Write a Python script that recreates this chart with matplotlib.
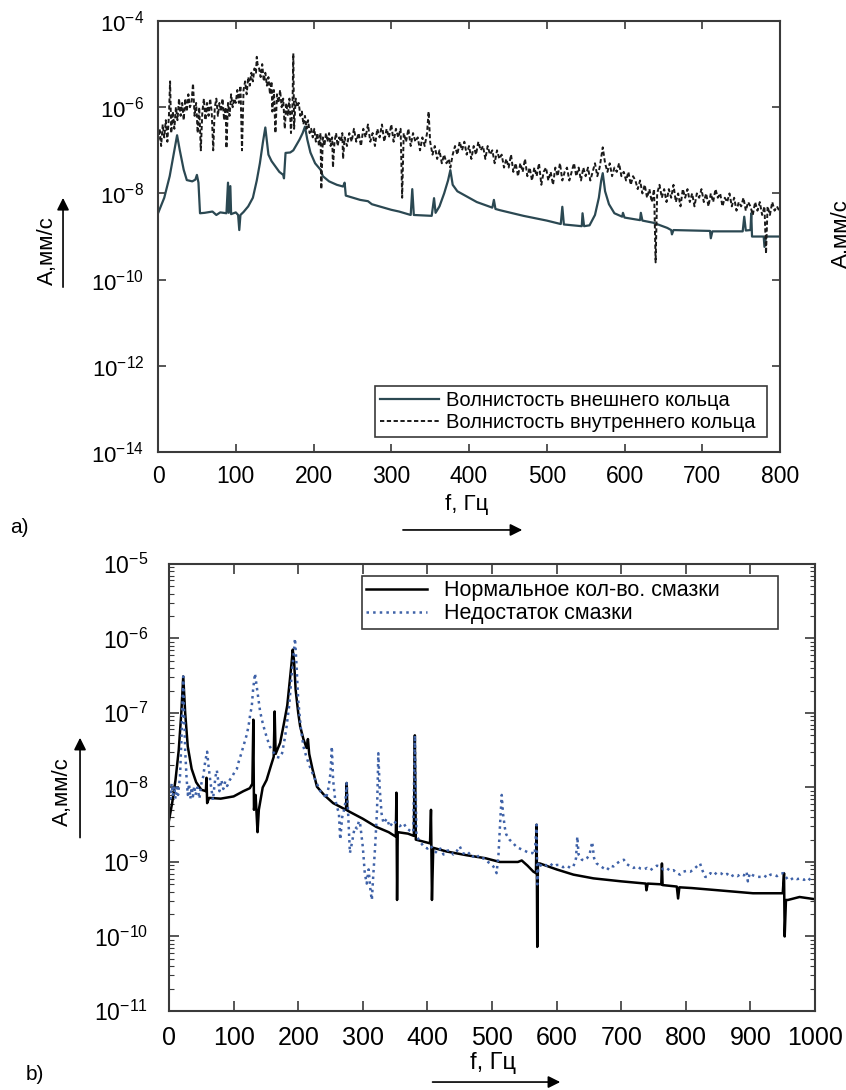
import numpy as np
import matplotlib.pyplot as plt

plt.rcParams['font.family'] = ['Liberation Sans', 'DejaVu Sans']
plt.rcParams['mathtext.fontset'] = 'custom'
plt.rcParams['mathtext.rm'] = 'Liberation Sans'
plt.rcParams['mathtext.it'] = 'Liberation Sans:italic'
plt.rcParams['mathtext.bf'] = 'Liberation Sans:bold'

# ---- panel a) : amplitudes, stored as log10(A, мм/с) ----
outer_f = [0, 8, 15, 20, 24.5, 28, 33, 37, 44, 48, 50, 52, 54, 60, 70, 75, 80, 88, 90, 91, 93, 94,
           100, 103, 104.5, 106, 110, 116, 122, 127, 131, 135, 138, 142, 146, 150, 156, 161, 162, 164,
           170, 174, 182, 186, 189, 192, 196, 202, 209, 212, 220, 230, 238, 240, 241.5, 260, 270, 275,
           300, 310, 325, 327, 329, 352, 355, 357, 362, 368, 373, 376, 379, 385, 398, 410, 430, 432,
           434, 440, 470, 500, 518, 520, 522, 545, 546, 548, 555, 562, 567, 570, 572, 575, 580, 587,
           597, 598, 600, 620, 621, 623, 637, 655, 660, 661, 663, 710, 711, 713, 752, 754, 756, 762,
           763, 764, 779, 780, 782, 800]
outer_lg = [-8.46, -8.1, -7.6, -7.1, -6.65, -7.0, -7.45, -7.69, -7.72, -7.68, -7.57, -7.75, -8.46, -8.45,
            -8.42, -8.5, -8.44, -8.46, -7.75, -8.45, -7.83, -8.48, -8.44, -8.5, -8.85, -8.5, -8.43, -8.3,
            -8.1, -7.7, -7.3, -6.8, -6.47, -7.1, -7.25, -7.35, -7.5, -7.57, -7.65, -7.06, -7.05, -7.0,
            -6.75, -6.6, -6.45, -6.75, -7.05, -7.3, -7.45, -7.6, -7.72, -7.8, -7.84, -7.75, -8.05, -8.15,
            -8.18, -8.25, -8.38, -8.42, -8.5, -7.9, -8.5, -8.52, -8.11, -8.45, -8.3, -8.0, -7.7, -7.46,
            -7.8, -7.95, -8.08, -8.2, -8.33, -8.15, -8.36, -8.39, -8.52, -8.63, -8.71, -8.31, -8.72,
            -8.76, -8.46, -8.76, -8.74, -8.5, -8.1, -7.7, -7.53, -7.95, -8.25, -8.46, -8.54, -8.45,
            -8.56, -8.62, -8.45, -8.63, -8.68, -8.8, -8.85, -8.95, -8.85, -8.87, -9.04, -8.88, -8.88,
            -8.54, -8.86, -8.85, -8.46, -9.0, -9.0, -9.24, -9.0, -9.0]

inner_f = [0, 2, 4, 6, 8, 10, 12, 14, 15.5, 17, 19, 21, 23, 25, 27, 29, 31, 33, 35, 37, 39, 41, 43, 45,
           47, 49, 51, 53, 55, 57, 59, 61, 63, 65, 67, 69, 71, 73, 75, 77, 79, 81, 83, 85, 87, 88, 90,
           92, 94, 96, 98, 100, 102, 104, 106, 108, 110, 112, 114, 116, 118, 120, 122, 124, 126, 127,
           128, 130, 132, 134, 136, 138, 140, 142, 144, 146, 147, 149, 151, 153, 155, 157, 159, 161,
           163, 165, 167, 169, 171, 173, 174, 175, 177, 179, 181, 183, 185, 187, 189, 191, 193, 195,
           197, 199, 201, 203, 205, 207, 209, 210, 212, 214, 216, 218, 220, 222, 224, 225, 227, 229,
           231, 233, 235, 237, 238, 240, 243, 246, 249, 252, 255, 258, 261, 264, 267, 270, 273, 276,
           279, 282, 285, 288, 291, 294, 297, 300, 303, 306, 309, 312, 314, 316, 319, 322, 325, 328,
           331, 334, 337, 340, 343, 346, 348, 350, 353, 356, 359, 362, 365, 368, 371, 374, 376, 379,
           382, 385, 388, 391, 394, 397, 400, 403, 406, 409, 412, 415, 418, 421, 424, 427, 430, 433,
           436, 439, 442, 445, 448, 451, 454, 457, 460, 463, 466, 469, 472, 475, 478, 481, 484, 487,
           490, 493, 496, 499, 502, 505, 508, 511, 514, 517, 520, 523, 526, 529, 532, 535, 538, 541,
           544, 547, 550, 553, 556, 559, 562, 565, 568, 572, 575, 578, 581, 584, 587, 590, 593, 596,
           599, 602, 605, 608, 611, 614, 617, 620, 623, 626, 629, 632, 635, 638, 640, 642, 645, 648,
           651, 654, 657, 660, 663, 666, 669, 672, 675, 678, 681, 684, 687, 690, 693, 696, 699, 702,
           705, 708, 711, 714, 717, 720, 723, 726, 729, 732, 735, 738, 741, 744, 747, 750, 753, 756,
           759, 762, 765, 768, 771, 774, 777, 780, 782, 784, 787, 790, 793, 796, 799]
inner_lg = [-6.8, -6.5, -6.9, -6.4, -6.7, -6.3, -6.8, -6.2, -5.4, -6.6, -6.1, -6.5, -6.0, -6.3, -5.8,
            -6.2, -5.9, -6.3, -5.8, -6.1, -5.7, -6.0, -5.9, -5.45, -6.2, -5.9, -6.6, -6.0, -7.0, -6.1,
            -5.8, -6.3, -5.9, -6.2, -5.8, -6.1, -7.0, -6.0, -5.8, -6.2, -5.9, -6.1, -5.8, -6.3, -6.0,
            -6.95, -5.9, -6.2, -5.7, -6.0, -5.8, -5.9, -5.6, -5.9, -5.5, -7.0, -5.6, -5.4, -5.7, -5.3,
            -5.5, -5.2, -5.4, -5.1, -5.2, -4.83, -5.0, -5.1, -5.3, -5.0, -5.4, -5.2, -5.5, -5.3, -5.7,
            -5.4, -6.1, -5.6, -6.6, -5.7, -5.9, -5.6, -6.0, -5.8, -6.5, -5.9, -6.2, -5.8, -6.6, -5.9,
            -4.75, -6.5, -5.8, -6.0, -5.9, -6.2, -6.1, -6.4, -6.2, -6.5, -6.3, -6.6, -6.5, -6.7, -6.5,
            -6.8, -6.6, -6.9, -6.6, -7.9, -6.7, -6.9, -6.6, -6.8, -6.6, -6.9, -6.7, -7.4, -6.8, -6.6,
            -6.9, -6.7, -6.8, -6.6, -7.2, -6.7, -6.9, -6.6, -6.8, -6.5, -6.8, -6.6, -6.9, -6.5, -6.7,
            -6.4, -6.8, -6.6, -6.9, -6.5, -6.7, -6.4, -6.8, -6.5, -6.7, -6.4, -6.8, -6.5, -6.7, -6.5,
            -8.1, -6.6, -6.8, -6.5, -6.9, -6.6, -6.8, -6.7, -7.0, -6.7, -6.9, -6.6, -6.1, -6.8, -7.1,
            -6.9, -7.2, -7.0, -7.3, -7.1, -7.3, -7.2, -7.4, -7.1, -6.9, -7.1, -6.8, -7.0, -6.8, -7.1,
            -6.9, -7.2, -6.9, -7.1, -6.8, -7.0, -6.9, -7.2, -6.9, -7.1, -7.0, -7.3, -7.0, -7.2, -7.1,
            -7.4, -7.2, -7.4, -7.1, -7.5, -7.3, -7.6, -7.3, -7.5, -7.2, -7.6, -7.4, -7.7, -7.4, -7.6,
            -7.3, -7.8, -7.5, -7.4, -7.7, -7.5, -7.8, -7.4, -7.6, -7.3, -7.7, -7.5, -7.4, -7.7, -7.5,
            -7.3, -7.6, -7.4, -7.7, -7.4, -7.6, -7.4, -7.7, -7.5, -7.3, -7.6, -7.4, -6.93, -7.3, -7.5,
            -7.3, -7.6, -7.4, -7.5, -7.3, -7.6, -7.5, -7.7, -7.5, -7.8, -7.6, -7.7, -7.9, -7.7, -8.0,
            -7.8, -8.1, -7.9, -8.2, -7.9, -9.6, -8.0, -7.8, -8.1, -7.9, -8.2, -7.9, -8.1, -7.8, -8.2,
            -8.0, -8.3, -7.9, -8.1, -7.9, -8.2, -8.0, -8.3, -8.0, -8.1, -7.9, -8.2, -8.0, -8.3, -8.0,
            -8.2, -7.9, -8.1, -8.0, -8.3, -8.1, -8.2, -8.0, -8.3, -8.1, -8.4, -8.2, -8.3, -8.1, -8.4,
            -8.2, -8.3, -8.5, -8.2, -8.4, -8.2, -8.5, -8.3, -9.4, -8.3, -8.5, -8.2, -8.4, -8.3, -8.4]

# ---- panel b) ----
normal_f = [0, 5, 10, 15, 19, 22, 25, 29, 35, 42, 50, 57, 58, 59, 62, 80, 100, 115, 125, 129, 130.5,
            131.5, 134, 137, 139, 145, 151, 158, 162, 163.5, 165, 172, 177, 183, 187, 190, 191.5,
            193.5, 196, 200, 203, 208, 213, 215, 217, 222, 229, 240, 254, 274, 275, 276, 300, 321, 340,
            351, 352, 353, 354, 370, 379, 380.5, 382, 404, 405.5, 407, 409, 430, 461, 490, 512, 540, 546,
            555, 564, 568, 569, 570, 571, 574, 600, 626, 657, 700, 738, 739, 741, 762, 763, 764, 786,
            788, 790, 809, 850, 904, 950, 952, 953, 955, 958, 976, 1000]
normal_lg = [-8.44, -8.2, -7.9, -7.5, -7.0, -6.51, -7.0, -7.45, -7.75, -7.93, -8.03, -8.05, -7.87, -8.21,
             -8.14, -8.15, -8.12, -8.05, -8.01, -7.95, -7.09, -8.3, -8.1, -8.6, -8.3, -8.0, -7.9, -7.7,
             -7.59, -6.98, -7.55, -7.4, -7.18, -6.9, -6.56, -6.3, -6.15, -6.3, -6.69, -7.0, -7.18, -7.35,
             -7.47, -7.35, -7.55, -7.75, -7.99, -8.1, -8.21, -8.3, -7.94, -8.31, -8.42, -8.53, -8.6,
             -8.66, -8.07, -9.51, -8.6, -8.62, -8.65, -7.3, -8.7, -8.75, -8.3, -9.51, -8.81, -8.86,
             -8.91, -8.95, -9.0, -9.0, -8.98, -9.05, -9.13, -9.15, -8.5, -10.14, -9.02, -9.02, -9.1,
             -9.17, -9.22, -9.26, -9.29, -9.38, -9.29, -9.3, -9.02, -9.31, -9.33, -9.49, -9.34, -9.35,
             -9.38, -9.42, -9.42, -9.15, -10.0, -9.51, -9.51, -9.47, -9.5]

lack_f = [0, 2, 4, 6, 8, 10, 12, 14, 17, 19, 21, 22, 23, 25, 27, 29, 31, 33, 35, 37, 39, 41, 44, 47, 50,
          53, 56, 59, 61, 64, 66, 68, 70, 72, 74, 76, 78, 81, 84, 87, 90, 94, 98, 101, 105, 108, 112,
          116, 120, 123, 126, 128, 130, 133, 135, 138, 141, 144, 147, 151, 156, 161, 167, 171, 175, 179,
          182, 186, 190, 193, 195, 197, 200, 204, 208, 213, 218, 224, 229, 234, 239, 243, 247, 250, 252,
          254, 257, 260, 263, 265, 268, 271, 273, 275, 277, 280, 283, 286, 288, 291, 294, 296, 300, 303,
          306, 309, 312, 314, 316, 319, 322, 324, 326, 329, 332, 337, 342, 347, 352, 357, 363, 368, 373,
          378, 380.5, 383, 388, 394, 400, 405, 409, 415, 420, 425, 430, 435, 440, 445, 450, 455, 461,
          466, 471, 476, 482, 487, 492, 497, 502, 505, 507, 510, 513, 515, 517, 520, 522, 527, 533, 538,
          543, 548, 553, 558, 563, 566, 569, 570, 572, 575, 579, 585, 590, 595, 600, 605, 610, 616, 621,
          626, 630, 632, 634, 639, 643, 647, 651, 655, 658, 662, 667, 672, 678, 683, 688, 693, 698, 704,
          709, 714, 719, 725, 730, 735, 740, 745, 750, 755, 760, 765, 770, 776, 781, 786, 791, 796, 801,
          807, 812, 817, 822, 826, 830, 833, 838, 843, 848, 854, 859, 864, 869, 875, 880, 885, 890, 894,
          896, 899, 904, 910, 916, 921, 926, 931, 936, 941, 946, 951, 955, 958, 962, 967, 972, 978, 983,
          988, 994, 1000]
lack_lg = [-8.05, -8.15, -7.95, -8.1, -7.98, -8.15, -8.0, -8.1, -7.85, -7.4, -6.8, -6.51, -6.9, -7.5, -7.85,
           -8.1, -7.95, -8.15, -8.0, -8.12, -7.98, -8.1, -8.0, -8.15, -7.95, -7.85, -7.65, -7.52, -7.7,
           -7.92, -8.05, -8.17, -8.0, -7.85, -7.77, -7.9, -8.05, -7.9, -8.02, -7.92, -7.98, -7.9, -7.85,
           -7.8, -7.75, -7.65, -7.54, -7.42, -7.3, -7.18, -7.0, -6.92, -6.7, -6.47, -6.6, -6.8, -6.98,
           -7.1, -7.2, -7.32, -7.45, -7.52, -7.59, -7.6, -7.54, -7.35, -7.18, -6.9, -6.47, -6.2, -6.0,
           -6.3, -6.83, -7.2, -7.45, -7.6, -7.72, -7.85, -7.95, -8.05, -8.08, -8.15, -8.0, -7.8, -7.45,
           -7.9, -8.15, -8.26, -8.35, -8.7, -8.4, -8.3, -8.2, -7.94, -8.3, -8.88, -8.75, -8.6, -8.53,
           -8.55, -8.45, -8.5, -8.8, -9.15, -9.29, -9.1, -9.4, -9.51, -9.2, -8.8, -8.3, -7.54, -8.0, -8.35,
           -8.48, -8.42, -8.53, -8.45, -8.48, -8.52, -8.48, -8.55, -8.58, -8.6, -7.3, -8.65, -8.72, -8.79,
           -8.82, -8.78, -8.84, -8.88, -8.82, -8.9, -8.85, -8.84, -8.9, -8.86, -8.79, -8.88, -8.91, -8.87,
           -8.93, -8.9, -8.96, -8.95, -8.99, -9.02, -9.06, -9.1, -9.15, -8.9, -8.4, -8.1, -8.35, -8.55,
           -8.63, -8.7, -8.75, -8.8, -8.82, -8.84, -8.86, -8.88, -8.88, -8.9, -8.5, -9.3, -9.0, -9.05,
           -9.02, -9.05, -9.02, -9.06, -9.04, -9.04, -9.07, -9.05, -9.08, -9.06, -8.95, -8.66, -8.9,
           -8.97, -8.98, -8.95, -8.9, -8.73, -8.95, -9.02, -9.05, -9.08, -9.11, -9.05, -9.06, -9.02,
           -8.99, -8.97, -9.03, -9.06, -9.08, -9.06, -9.09, -9.1, -9.08, -9.11, -9.08, -9.05, -9.06,
           -9.1, -9.08, -9.12, -9.11, -9.15, -9.17, -9.13, -9.12, -9.13, -9.1, -9.06, -9.02, -9.12,
           -9.2, -9.2, -9.15, -9.18, -9.14, -9.15, -9.18, -9.16, -9.2, -9.17, -9.19, -9.16, -9.18,
           -9.13, -9.26, -9.15, -9.18, -9.2, -9.2, -9.18, -9.21, -9.17, -9.17, -9.19, -9.16, -9.15,
           -9.2, -9.24, -9.24, -9.21, -9.23, -9.22, -9.24, -9.21, -9.25, -9.24]

top_yticks = [1e-4, 1e-6, 1e-8, 1e-10, 1e-12, 1e-14]
bot_yticks = [1e-5, 1e-6, 1e-7, 1e-8, 1e-9, 1e-10, 1e-11]

fig = plt.figure(figsize=(8.46, 10.90), dpi=100)
edge = '#3a3a3a'

# ---------------- a) ----------------
ax1 = fig.add_axes([0.1868, 0.5853, 0.7352, 0.3954])
ax1.plot(outer_f, 10.0 ** np.array(outer_lg), color='#2b4852', lw=1.6,
         label='Волнистость внешнего кольца')
ax1.plot(inner_f, 10.0 ** np.array(inner_lg), color='#1a1a1a', lw=1.4, ls=(0, (2.2, 1.3)),
         label='Волнистость внутреннего кольца')
ax1.set_yscale('log')
ax1.set_xlim(0, 800)
ax1.set_ylim(1e-14, 1e-4)
ax1.set_xticks(range(0, 801, 100))
ax1.set_yticks(top_yticks)
ax1.set_yticklabels(['$10^{%d}$' % int(np.log10(v)) for v in top_yticks])
ax1.yaxis.set_minor_locator(plt.NullLocator())
ax1.tick_params(direction='in', top=True, right=True, length=6, width=1.2, color=edge)
ax1.tick_params(axis='x', labelsize=16.5, pad=9)
ax1.tick_params(axis='y', labelsize=16, pad=10)
for s in ax1.spines.values():
    s.set_color(edge)
    s.set_linewidth(1.5)
leg1 = ax1.legend(loc='lower left', bbox_to_anchor=(0.349, 0.035, 0.630, 0.12), mode='expand',
                  fontsize=14.5, handlelength=2.9, fancybox=False, framealpha=1, borderaxespad=0,
                  borderpad=0.25, labelspacing=0.15, handletextpad=0.35)
leg1.get_frame().set_edgecolor(edge)
leg1.get_frame().set_linewidth(1.2)

# ---------------- b) ----------------
ax2 = fig.add_axes([0.1998, 0.0725, 0.7636, 0.4101])
ax2.plot(normal_f, 10.0 ** np.array(normal_lg), color='black', lw=1.8,
         label='Нормальное кол-во. смазки')
ax2.plot(lack_f, 10.0 ** np.array(lack_lg), color='#3f62a8', lw=1.8, ls=':',
         label='Недостаток смазки')
ax2.set_yscale('log')
ax2.set_xlim(0, 1000)
ax2.set_ylim(1e-11, 1e-5)
ax2.set_xticks(range(0, 1001, 100))
ax2.set_yticks(bot_yticks)
ax2.set_yticklabels(['$10^{%d}$' % int(np.log10(v)) for v in bot_yticks])
ax2.tick_params(direction='in', top=True, right=True, length=7, width=1.2, color=edge)
ax2.tick_params(which='minor', direction='in', right=True, length=3.5, width=0.8, color=edge)
ax2.tick_params(axis='x', labelsize=18, pad=11)
ax2.tick_params(axis='y', labelsize=16.5, pad=15)
for s in ax2.spines.values():
    s.set_color(edge)
    s.set_linewidth(1.5)
leg2 = ax2.legend(loc='upper left', bbox_to_anchor=(0.299, 0.855, 0.644, 0.118), mode='expand',
                  fontsize=15.5, handlelength=2.8, fancybox=False, framealpha=1, borderaxespad=0,
                  borderpad=0.2, labelspacing=0.1, handletextpad=0.8)
leg2.get_frame().set_edgecolor(edge)
leg2.get_frame().set_linewidth(1.2)

# ---------------- labels with arrows ----------------
arr = dict(arrowstyle='-|>', color='black', lw=1.2, mutation_scale=18)
ff = 'figure fraction'
fig.text(0.0556, 0.7697, 'A,мм/с', rotation=90, ha='center', va='center', fontsize=16)
fig.text(0.0733, 0.2734, 'A,мм/с', rotation=90, ha='center', va='center', fontsize=16)
fig.text(0.982, 0.786, 'A,мм/с', rotation=90, ha='left', va='center', fontsize=16)
ax1.annotate('', xy=(0.0745, 0.821), xytext=(0.0745, 0.734), xycoords=ff, textcoords=ff,
             arrowprops=arr, annotation_clip=False)
ax2.annotate('', xy=(0.0946, 0.3257), xytext=(0.0946, 0.229), xycoords=ff, textcoords=ff,
             arrowprops=arr, annotation_clip=False)

fig.text(0.552, 0.5367, 'f, Гц', ha='center', va='center', fontsize=16)
fig.text(0.5827, 0.0248, 'f, Гц', ha='center', va='center', fontsize=17)
ax1.annotate('', xy=(0.6206, 0.5138), xytext=(0.473, 0.5138), xycoords=ff, textcoords=ff,
             arrowprops=arr, annotation_clip=False)
ax2.annotate('', xy=(0.6655, 0.0073), xytext=(0.508, 0.0073), xycoords=ff, textcoords=ff,
             arrowprops=arr, annotation_clip=False)

fig.text(0.0118, 0.5156, 'a)', ha='left', va='center', fontsize=15)
fig.text(0.0307, 0.0138, 'b)', ha='left', va='center', fontsize=15)

fig.savefig('out.png', dpi=100)
